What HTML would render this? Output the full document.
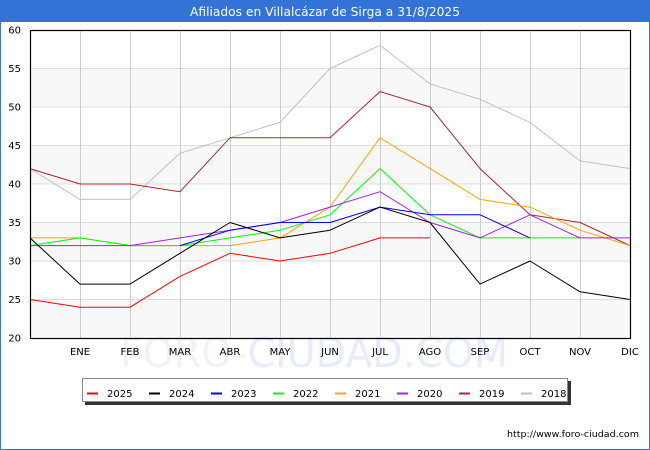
<!DOCTYPE html>
<html><head><meta charset="utf-8"><style>
html,body{margin:0;padding:0;background:#fff;}
svg{display:block;}
</style></head><body>
<svg width="650" height="450" viewBox="0 0 650 450" xmlns="http://www.w3.org/2000/svg" font-family="'DejaVu Sans', 'Liberation Sans', sans-serif">
<rect x="0" y="0" width="650" height="450" fill="#fff"/>
<rect x="0" y="0" width="650" height="22" fill="#3473d6"/>
<rect x="0.5" y="0.5" width="649" height="449" fill="none" stroke="#3473d6" stroke-width="1"/>
<text x="325" y="16" fill="#fff" font-size="12.5" text-anchor="middle" textLength="270" lengthAdjust="spacingAndGlyphs">Afiliados en Villalcázar de Sirga a 31/8/2025</text>

<!-- bands -->
<rect x="30" y="68.5" width="600" height="38.5" fill="#f8f8f8"/>
<rect x="30" y="145.5" width="600" height="38.5" fill="#f8f8f8"/>
<rect x="30" y="222.5" width="600" height="38.5" fill="#f8f8f8"/>
<rect x="30" y="299.5" width="600" height="38.5" fill="#f8f8f8"/>

<!-- horizontal grid -->
<g stroke="#dddddd" stroke-width="1">
<line x1="30" y1="68.5" x2="630" y2="68.5"/>
<line x1="30" y1="107" x2="630" y2="107"/>
<line x1="30" y1="145.5" x2="630" y2="145.5"/>
<line x1="30" y1="184" x2="630" y2="184"/>
<line x1="30" y1="222.5" x2="630" y2="222.5"/>
<line x1="30" y1="261" x2="630" y2="261"/>
<line x1="30" y1="299.5" x2="630" y2="299.5"/>
</g>
<!-- vertical grid -->
<g stroke="#cccccc" stroke-width="1">
<line x1="80.5" y1="30" x2="80.5" y2="338"/>
<line x1="130.5" y1="30" x2="130.5" y2="338"/>
<line x1="180.5" y1="30" x2="180.5" y2="338"/>
<line x1="230.5" y1="30" x2="230.5" y2="338"/>
<line x1="280.5" y1="30" x2="280.5" y2="338"/>
<line x1="330.5" y1="30" x2="330.5" y2="338"/>
<line x1="380.5" y1="30" x2="380.5" y2="338"/>
<line x1="430.5" y1="30" x2="430.5" y2="338"/>
<line x1="480.5" y1="30" x2="480.5" y2="338"/>
<line x1="530.5" y1="30" x2="530.5" y2="338"/>
<line x1="580.5" y1="30" x2="580.5" y2="338"/>
</g>

<!-- watermark -->
<text x="120" y="367" font-size="41" textLength="388" lengthAdjust="spacingAndGlyphs"><tspan fill="#f2f2f2">FORO-</tspan><tspan fill="#e8ebf9">CIUDAD.COM</tspan></text>

<!-- series -->
<g fill="none" stroke-width="1" stroke-linejoin="round">
<polyline stroke="#c0c0c0" points="30,168.6 80,199.4 130,199.4 180,153.2 230,137.8 280,122.4 330,68.5 380,45.4 430,83.9 480,99.3 530,122.4 580,160.9 630,168.6"/>
<polyline stroke="#a52a2a" points="30,168.6 80,184 130,184 180,191.7 230,137.8 280,137.8 330,137.8 380,91.6 430,107 480,168.6 530,214.8 580,222.5 630,245.6"/>
<polyline stroke="#ffa500" points="30,237.9 80,237.9 130,245.6 180,245.6 230,245.6 280,237.9 330,207.1 380,137.8 430,168.6 480,199.4 530,207.1 580,230.2 630,245.6"/>
<polyline stroke="#00ff00" points="30,245.6 80,237.9 130,245.6 180,245.6 230,237.9 280,230.2 330,214.8 380,168.6 430,214.8 480,237.9 530,237.9 580,237.9"/>
<polyline stroke="#a020f0" points="30,245.6 80,245.6 130,245.6 180,237.9 230,230.2 280,222.5 330,207.1 380,191.7 430,222.5 480,237.9 530,214.8 580,237.9 630,237.9"/>
<polyline stroke="#0000ff" points="180,245.6 230,230.2 280,222.5 330,222.5 380,207.1 430,214.8 480,214.8 530,237.9"/>
<polyline stroke="#000000" points="30,237.9 80,284.1 130,284.1 180,253.3 230,222.5 280,237.9 330,230.2 380,207.1 430,222.5 480,284.1 530,261 580,291.8 630,299.5"/>
<polyline stroke="#ff0000" points="30,299.5 80,307.2 130,307.2 180,276.4 230,253.3 280,261 330,253.3 380,237.9 430,237.9"/>
</g>

<!-- plot border -->
<rect x="30.5" y="30.5" width="600" height="308" fill="none" stroke="#000" stroke-width="1.2"/>

<!-- y labels -->
<g font-size="10" fill="#000" text-anchor="end">
<text x="21" y="33.6">60</text>
<text x="21" y="72.1">55</text>
<text x="21" y="110.6">50</text>
<text x="21" y="149.1">45</text>
<text x="21" y="187.6">40</text>
<text x="21" y="226.1">35</text>
<text x="21" y="264.6">30</text>
<text x="21" y="303.1">25</text>
<text x="21" y="341.6">20</text>
</g>
<!-- x labels -->
<g font-size="10" fill="#000" text-anchor="middle">
<text x="80" y="355">ENE</text>
<text x="130" y="355">FEB</text>
<text x="180" y="355">MAR</text>
<text x="230" y="355">ABR</text>
<text x="280" y="355">MAY</text>
<text x="330" y="355">JUN</text>
<text x="380" y="355">JUL</text>
<text x="430" y="355">AGO</text>
<text x="480" y="355">SEP</text>
<text x="530" y="355">OCT</text>
<text x="580" y="355">NOV</text>
<text x="630" y="355">DIC</text>
</g>

<!-- legend -->
<rect x="85" y="381" width="486" height="24" fill="#333"/>
<rect x="82.5" y="378.5" width="485" height="23" fill="#fff" stroke="#888" stroke-width="1"/>
<g stroke-width="2">
<line x1="87" y1="393.5" x2="98" y2="393.5" stroke="#ff0000"/>
<line x1="149" y1="393.5" x2="160" y2="393.5" stroke="#000000"/>
<line x1="211" y1="393.5" x2="222" y2="393.5" stroke="#0000ff"/>
<line x1="273" y1="393.5" x2="284" y2="393.5" stroke="#00ff00"/>
<line x1="335" y1="393.5" x2="346" y2="393.5" stroke="#ffa500"/>
<line x1="397" y1="393.5" x2="408" y2="393.5" stroke="#a020f0"/>
<line x1="459" y1="393.5" x2="470" y2="393.5" stroke="#a52a2a"/>
<line x1="521" y1="393.5" x2="532" y2="393.5" stroke="#c0c0c0"/>
</g>
<g font-size="10" fill="#000">
<text x="107" y="397">2025</text>
<text x="169" y="397">2024</text>
<text x="231" y="397">2023</text>
<text x="293" y="397">2022</text>
<text x="355" y="397">2021</text>
<text x="417" y="397">2020</text>
<text x="479" y="397">2019</text>
<text x="541" y="397">2018</text>
</g>

<!-- footer -->
<text x="507" y="437" font-size="9" fill="#000" textLength="132" lengthAdjust="spacingAndGlyphs">http://www.foro-ciudad.com</text>
</svg>
</body></html>
